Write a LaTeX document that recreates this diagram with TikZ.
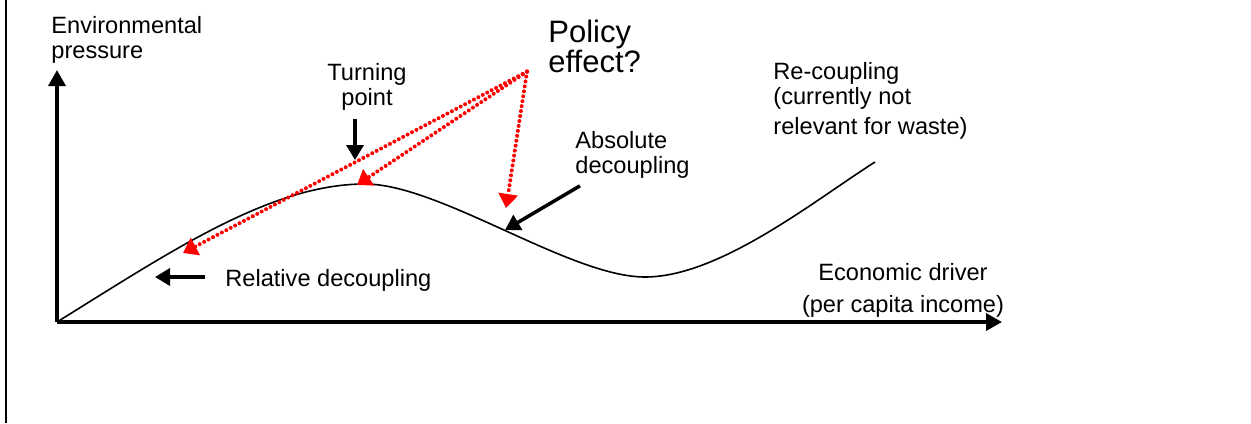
\documentclass[tikz,border=0pt]{standalone}
\usepackage{fontspec}
\setmainfont{Liberation Sans}
\usetikzlibrary{arrows.meta,positioning}

\begin{document}
\begin{tikzpicture}[ x = 0.5pt, y = -0.5pt,
        txt/.style = { inner sep = 0pt, font = \fontsize{11.8}{12.5}\selectfont },
        axisline/.style = { line width = 1.75pt, -{Triangle[length = 8pt, width = 8.5pt]} },
        blackarrow/.style = { line width = 1.75pt, -{Triangle[length = 7.5pt, width = 8.5pt]} },
        policyarrow/.style = { red, line width = 2pt, line cap = round, dash pattern = on 0pt off 2.5pt, -{Triangle[length = 7pt, width = 9.5pt]} } ]
    \useasboundingbox (0,0) rectangle (1251,423);
    \draw [ line width = 0.85pt ] (6,0) -- (6,423);

    % axes
    \coordinate (cOrigin) at (57,322);
    \coordinate (cYTip) at (57,70);
    \coordinate (cXTip) at (1002,322);
    \draw [ axisline ] (cOrigin) -- (cYTip);
    \draw [ axisline ] (cOrigin) -- (cXTip);

    % curve
    \draw [ line width = 0.8pt ] (cOrigin) .. controls (170,252) and (270,184) .. (365,184) .. controls (440,184) and (570,277) .. (645,277) .. controls (720,277) and (815,200) .. (875,162);

    \node (nEnvPressure) [ txt, anchor = north west, align = left ] at (51,16) {Environmental\\pressure};
    \node (nTurningPoint) [ txt, anchor = north, align = center ] at (367,63) {Turning\\point};
    \node (nPolicyEffect) [ txt, anchor = north west, align = left, font = \fontsize{15.5}{15}\selectfont ] at (548,20) {Policy\\effect?};
    \node (nAbsolute) [ txt, anchor = north west, align = left ] at (575,131) {Absolute\\decoupling};
    \node (nRecoupling) [ txt, anchor = north west, align = left ] at (773,62) {Re-coupling\\(currently not\\[2.5pt]relevant for waste)};
    \node (nEconomic) [ txt, anchor = north, align = center ] at (903,263) {Economic driver\\[3.5pt](per capita income)};
    \node (nRelative) [ txt, anchor = base west ] at (225,286) {Relative decoupling};

    \coordinate (cTurnTip) at (355,160);
    \coordinate (cRelTip) at (155,277);
    \coordinate (cAbsTip) at (505,230);
    \draw [ blackarrow, shorten <= 4pt ] (nTurningPoint.south -| cTurnTip) -- (cTurnTip);
    \draw [ blackarrow, shorten <= 10pt ] (nRelative.west |- cRelTip) -- (cRelTip);
    \draw [ blackarrow ] ([xshift = 2.5pt, yshift = -3.5pt]nAbsolute.south west) -- (cAbsTip);

    % policy effect arrows
    \coordinate (cRedRel) at (183,253);
    \coordinate (cRedTurn) at (357,185);
    \coordinate (cRedAbs) at (506,208);
    \draw [ policyarrow ] ([xshift = -10.5pt, yshift = 1pt]nPolicyEffect.south west) -- (cRedRel);
    \draw [ policyarrow ] ([xshift = -10.5pt, yshift = 1pt]nPolicyEffect.south west) -- (cRedTurn);
    \draw [ policyarrow ] ([xshift = -10.5pt, yshift = 1pt]nPolicyEffect.south west) -- (cRedAbs);
\end{tikzpicture}
\end{document}
